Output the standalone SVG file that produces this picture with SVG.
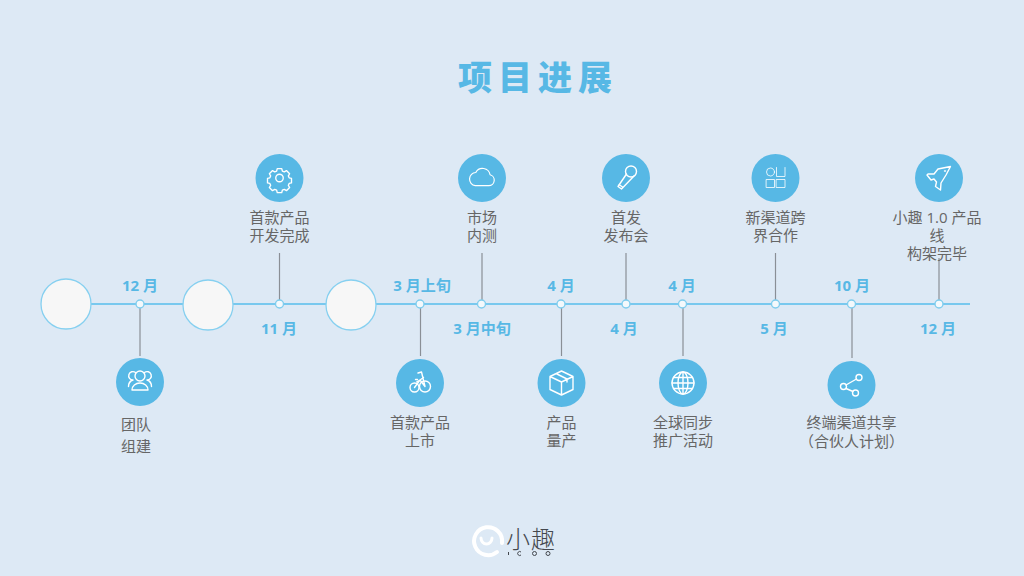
<svg xmlns="http://www.w3.org/2000/svg" width="1024" height="576" viewBox="0 0 1024 576">
<style>
text{font-family:"Open Sans","Noto Sans CJK SC",sans-serif}
.t{font-size:34px;font-weight:900;fill:#57b8e5;text-anchor:middle;letter-spacing:6px}
.m{font-size:15px;font-weight:700;fill:#57b8e5;text-anchor:middle}
.l{font-size:15px;fill:#666;text-anchor:middle}
.b{fill:#57b8e5}
.i{fill:none;stroke:#fff;stroke-width:1.4;stroke-linejoin:round;stroke-linecap:round}
.d{fill:#f4f9fc;stroke:#7fcdee;stroke-width:1.4}
.s{fill:#f7f7f7;stroke:#86d0f0;stroke-width:1.3}
.c{stroke:#8a8f96;stroke-width:1.2}
.a{stroke:#78c8ee;stroke-width:2}
</style>
<defs><circle id="dot" r="4" class="d"/></defs>
<rect width="1024" height="576" fill="#dde9f5"/>
<text id="title" class="t" x="538" y="90">项目进展</text>
<g id="connectors">
<line class="a" x1="66" y1="304" x2="970" y2="304"/>
<line class="c" x1="140" y1="304" x2="140" y2="356"/>
<line class="c" x1="279.500" y1="253" x2="279.500" y2="304"/>
<line class="c" x1="420.500" y1="304" x2="420.500" y2="356"/>
<line class="c" x1="482" y1="253" x2="482" y2="304"/>
<line class="c" x1="561.500" y1="304" x2="561.500" y2="356"/>
<line class="c" x1="626" y1="253" x2="626" y2="304"/>
<line class="c" x1="683" y1="304" x2="683" y2="356"/>
<line class="c" x1="775.500" y1="253" x2="775.500" y2="304"/>
<line class="c" x1="852" y1="304" x2="852" y2="358"/>
<line class="c" x1="939" y1="258" x2="939" y2="304"/>
</g>
<g id="milestones">
<circle class="s" cx="66" cy="304" r="25"/>
<circle class="s" cx="208" cy="305" r="25"/>
<circle class="s" cx="351" cy="305" r="25"/>
<use href="#dot" x="140" y="304"/><use href="#dot" x="279.500" y="304"/><use href="#dot" x="420" y="304"/><use href="#dot" x="481.500" y="304"/><use href="#dot" x="561" y="304"/><use href="#dot" x="626" y="304"/><use href="#dot" x="682.500" y="304"/><use href="#dot" x="775.500" y="304"/><use href="#dot" x="851.500" y="304"/><use href="#dot" x="939" y="304"/>
</g>
<g id="months">
<text class="m" x="140" y="291">12 月</text>
<text class="m" x="279" y="334">11 月</text>
<text class="m" x="422" y="291">3 月上旬</text>
<text class="m" x="482" y="334">3 月中旬</text>
<text class="m" x="561" y="291">4 月</text>
<text class="m" x="624" y="334">4 月</text>
<text class="m" x="682" y="291">4 月</text>
<text class="m" x="774" y="334">5 月</text>
<text class="m" x="852" y="291">10 月</text>
<text class="m" x="938" y="334">12 月</text>
</g>
<g id="n-team"><circle class="b" cx="140" cy="382" r="24"/>
<g class="i" transform="translate(140 382)"><circle cx="0" cy="-6" r="5"/><path d="M-8 8a8 7 0 0 1 16 0z"/><path d="M-4.500-9.500a4.200 4.200 0 1 0-2.500 7.500c-3 1-4.500 3-4.500 6.500M4.500-9.500a4.200 4.200 0 1 1 2.500 7.500c3 1 4.500 3 4.500 6.500"/></g>
<text class="l" x="136" y="430">团队</text><text class="l" x="136" y="452">组建</text></g>
<g id="n-gear"><circle class="b" cx="279.500" cy="178" r="24"/>
<g class="i" transform="translate(279.500 178) scale(.75)" style="stroke-width:1.800"><circle r="5"/><path d="M-3-12.500h6l.8 3.200 2.600 1.100 2.900-1.700 4.200 4.200-1.700 2.900 1.100 2.600 3.100.7v6l-3.100.7-1.100 2.600 1.700 2.900-4.200 4.200-2.900-1.700-2.600 1.100-.8 3.200h-6l-.8-3.200-2.600-1.100-2.900 1.700-4.200-4.200 1.700-2.900-1.100-2.600-3.100-.7v-6l3.100-.7 1.100-2.600-1.700-2.900 4.200-4.200 2.900 1.700 2.600-1.100z"/></g>
<text class="l" x="279.500" y="223">首款产品</text><text class="l" x="279.500" y="241">开发完成</text></g>
<g id="n-bike"><circle class="b" cx="420" cy="383" r="24"/>
<g class="i" transform="translate(420 383)"><circle cx="-5.500" cy="4.500" r="4.500"/><circle cx="5" cy="3.500" r="5.500"/><path d="M-5.500 4.500 0-3 5 3.500M-4.500-3.500h2M-2-10 1.500-11 5 3.500M-3.500-1 0-3l3.500-2.500"/></g>
<text class="l" x="420" y="428">首款产品</text><text class="l" x="420" y="446">上市</text></g>
<g id="n-cloud"><circle class="b" cx="482" cy="178" r="24"/>
<path class="i" transform="translate(482 178) scale(.85) translate(-482 -178)" d="M474 187h16a6.500 6.500 0 0 0 1.500-12.800 9 9 0 0 0-16.800-2.700 7.800 7.800 0 0 0-.7 15.500z"/>
<text class="l" x="482" y="223">市场</text><text class="l" x="482" y="241">内测</text></g>
<g id="n-box"><circle class="b" cx="561.500" cy="383" r="24"/>
<g class="i" transform="translate(561.500 383)"><path d="M0-12 11.500-6.500V6.500L0 12-11.500 6.500V-6.500zM-11.500-6.500 0-1 11.500-6.500M0-1V12M-5.500-9.500 5.500-4V-1"/></g>
<text class="l" x="561.500" y="428">产品</text><text class="l" x="561.500" y="446">量产</text></g>
<g id="n-mic"><circle class="b" cx="626" cy="178" r="24"/>
<g class="i" transform="translate(626 178)"><circle cx="5" cy="-6.500" r="5.500"/><path d="M.5-4 -8 8.500l3.500 2.500L8 -2M-7 6.500l3.500 2.500"/></g>
<text class="l" x="626" y="223">首发</text><text class="l" x="626" y="241">发布会</text></g>
<g id="n-globe"><circle class="b" cx="683" cy="383" r="24"/>
<g class="i" transform="translate(683 383)"><circle r="11"/><ellipse rx="5" ry="11"/><path d="M0-11V11M-11 0H11M-9.500-5.500H9.500M-9.500 5.500H9.500"/></g>
<text class="l" x="683" y="428">全球同步</text><text class="l" x="683" y="446">推广活动</text></g>
<g id="n-apps"><circle class="b" cx="775.500" cy="178" r="24"/>
<g class="i" style="stroke-width:.8" transform="translate(775.500 178)"><circle cx="-5" cy="-6" r="4"/><path d="M1-10.500V-1.500H9.500V-10.500M-9 1.500H-1V9.500H-9zM1 1.500H9.500V9.500H1z"/></g>
<text class="l" x="775.500" y="223">新渠道跨</text><text class="l" x="775.500" y="241">界合作</text></g>
<g id="n-share"><circle class="b" cx="851.500" cy="385" r="24"/>
<g class="i" transform="translate(851.500 385)"><circle cx="-8" cy="1.500" r="3"/><circle cx="7.500" cy="-7.500" r="3"/><circle cx="4" cy="8" r="3"/><path d="M-5.500 0 5-6M-5.500 3.500 1.500 6.500"/></g>
<text class="l" x="851.500" y="428">终端渠道共享</text><text class="l" x="851.500" y="447">（合伙人计划）</text></g>
<g id="n-rocket"><circle class="b" cx="939" cy="178" r="24"/>
<g class="i" transform="translate(939 178)"><path d="M11.500-11.500-1-9-5-4h-6l-1 1 4 5 3-1 2.500 3-1 4.500 5 3.500.5-7L7-3zM5.500-7h1"/></g>
<text class="l" x="937" y="223">小趣 1.0 产品</text><text class="l" x="937" y="241">线</text><text class="l" x="937" y="259">构架完毕</text></g>
<g id="logo">
<path d="M497 552a14 14 0 1 1 5-9" fill="none" stroke="#fff" stroke-width="4" stroke-linecap="round"/>
<path d="M481 538a5.500 6 0 0 0 11 0" fill="none" stroke="#fff" stroke-width="3" stroke-linecap="round"/>
<text x="531" y="548" text-anchor="middle" style="font-size:24px;font-weight:300;fill:#44484e;font-family:'Noto Sans CJK SC',sans-serif;letter-spacing:1px">小趣</text>
<g fill="none" stroke="#44484e" stroke-width="1"><path d="M508.500 552v3"/><path d="M521 552a2 2 0 1 0 0 3"/><circle cx="534.500" cy="553.500" r="2"/><circle cx="548" cy="553.500" r="2"/></g>
</g>
</svg>
